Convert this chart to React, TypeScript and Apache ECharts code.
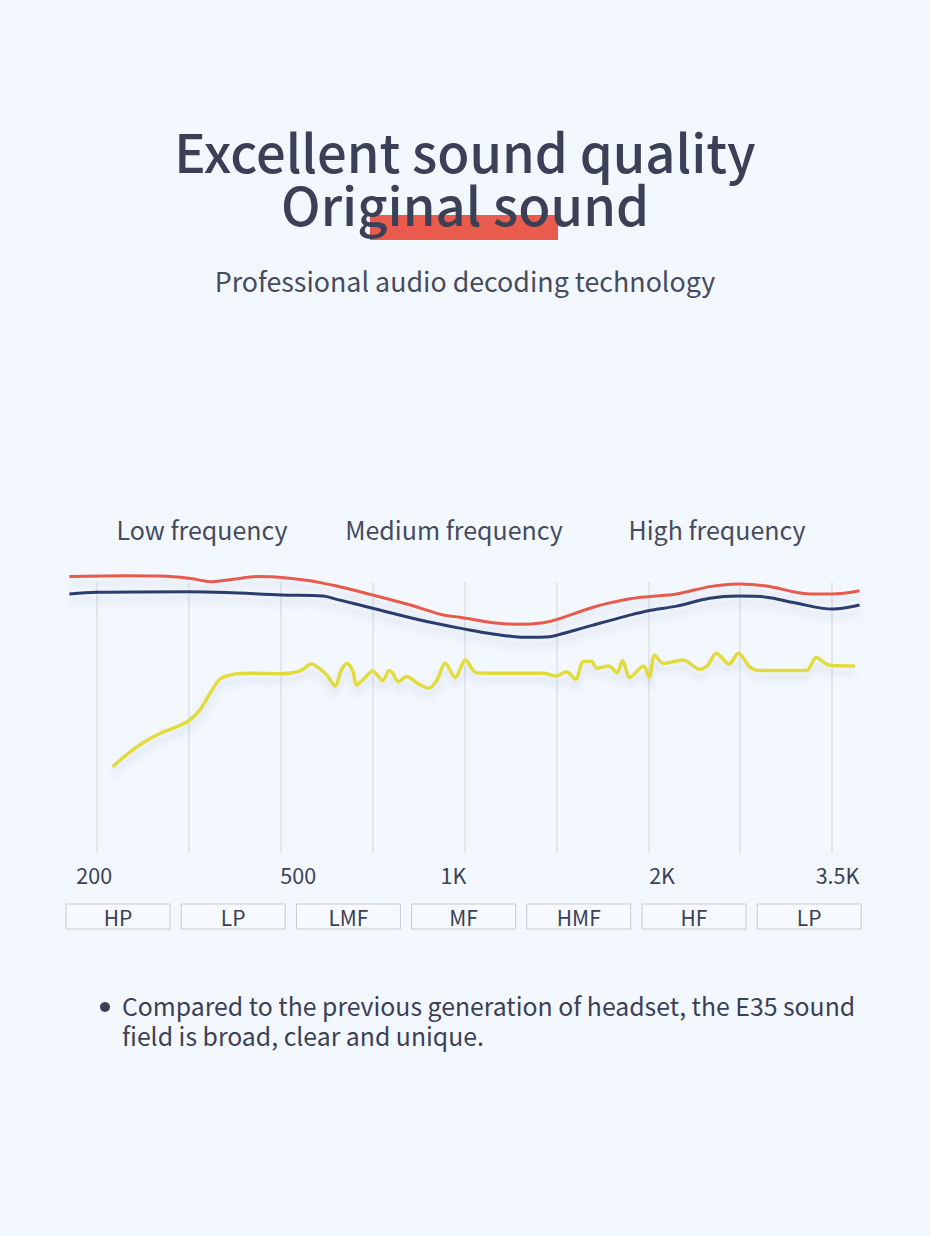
import React, { useEffect, useRef } from "react";
import * as echarts from "echarts";

// ---- data (x: position along the frequency strip, grid lines at 1..9; y: relative level 0..100) ----
const redX = [0.7, 1.32, 1.69, 2.0, 2.25, 2.48, 2.74, 3.01, 3.32, 3.61, 4.0, 4.41, 4.77, 4.95, 5.31, 5.6, 5.86, 6.01, 6.4, 6.77, 7.0, 7.31, 7.67, 7.98, 8.29, 8.58, 8.76, 9.0, 9.3];
const redY = [102.0, 102.3, 102.2, 101.4, 100.1, 101.0, 102.0, 101.7, 100.5, 98.5, 95.2, 91.5, 87.8, 87.0, 85.0, 84.4, 85.0, 86.2, 90.7, 93.6, 94.6, 95.6, 98.3, 99.3, 98.5, 96.4, 95.6, 95.6, 96.8];

const navyX = [0.7, 1.0, 2.0, 2.41, 3.01, 3.46, 3.61, 4.0, 4.59, 4.99, 5.31, 5.68, 5.93, 6.01, 6.4, 6.77, 7.0, 7.31, 7.67, 7.98, 8.29, 8.58, 9.01, 9.3];
const navyY = [95.6, 96.2, 96.4, 96.1, 95.2, 94.8, 93.6, 90.3, 85.4, 82.7, 80.8, 79.6, 79.8, 80.4, 84.1, 87.5, 89.4, 91.1, 94.0, 94.8, 94.4, 92.4, 90.0, 91.5];

const yellowX = [1.17, 1.32, 1.5, 1.69, 1.87, 2.0, 2.12, 2.23, 2.34, 2.48, 2.7, 3.01, 3.21, 3.33, 3.5, 3.59, 3.66, 3.72, 3.78, 3.83, 3.9, 4.0, 4.11, 4.18, 4.22, 4.28, 4.37, 4.5, 4.61, 4.7, 4.79, 4.9, 5.01, 5.13, 5.5, 5.86, 6.0, 6.11, 6.21, 6.29, 6.38, 6.44, 6.57, 6.66, 6.72, 6.8, 6.95, 7.01, 7.07, 7.16, 7.38, 7.56, 7.65, 7.74, 7.88, 7.98, 8.11, 8.23, 8.72, 8.83, 8.96, 9.25];
const yellowY = [31.8, 36.2, 40.7, 44.2, 46.6, 48.8, 52.8, 58.9, 64.2, 65.9, 66.3, 66.1, 67.2, 69.7, 65.7, 61.6, 67.5, 70.0, 67.5, 62.0, 64.1, 67.2, 63.6, 67.3, 66.3, 63.2, 65.1, 62.4, 60.8, 63.8, 70.0, 64.8, 71.2, 66.5, 66.3, 66.3, 65.3, 66.9, 64.1, 70.6, 70.8, 68.2, 69.0, 66.5, 71.0, 64.8, 69.0, 64.8, 73.1, 70.0, 71.2, 67.8, 69.4, 73.7, 69.7, 73.7, 68.5, 67.3, 67.3, 72.1, 69.4, 69.0];

const tickPositions = [0.97, 3.19, 4.88, 7.15, 9.06];
const tickLabels = ["200", "500", "1K", "2K", "3.5K"];

const bandLabels = ["HP", "LP", "LMF", "MF", "HMF", "HF", "LP"];
const rangeLabels = ["Low frequency", "Medium frequency", "High frequency"];

const titleLine1 = "Excellent sound quality";
const titleLine2 = "Original sound";
const subtitle = "Professional audio decoding technology";
const noteLines = [
  "Compared to the previous generation of headset, the E35 sound",
  "field is broad, clear and unique.",
];

const FONT = '"Noto Sans CJK SC", "Source Sans Pro", "Noto Sans", sans-serif';
const TEXT = "#3b4057";
const BG = "#f3f8fe";

function zip(xs: number[], ys: number[]) {
  return xs.map((x, i) => [x, ys[i]]);
}

function txt(text: string, x: number, y: number, size: number, align: string, weight: any = 400, fill = TEXT, lineHeight?: number) {
  return {
    type: "text",
    x,
    y,
    z: 10,
    style: {
      text,
      fill,
      fontSize: size,
      fontFamily: FONT,
      fontWeight: weight,
      lineHeight: lineHeight ?? Math.round(size * 1.2),
      align,
      verticalAlign: "middle",
      textAlign: align,
      textVerticalAlign: "middle",
    },
  };
}

export default function App() {
  const ref = useRef<HTMLDivElement>(null);
  useEffect(() => {
    if (!ref.current) return;
    const chart = echarts.init(ref.current, undefined, { renderer: "svg" });

    const graphics: any[] = [];
    graphics.push({ type: "rect", z: 5, shape: { x: 370, y: 215, width: 188, height: 25 }, style: { fill: "#e95b4c" } });
    graphics.push(txt(titleLine1, 465, 150, 52.5, "center", 500, TEXT, 48));
    graphics.push(txt(titleLine2, 465, 202.5, 52.5, "center", 500, TEXT, 48));
    graphics.push(txt(subtitle, 465, 280, 26.8, "center", 400, "#464b60"));

    const rangeCenters = [202, 454, 717];
    rangeLabels.forEach((l, i) => graphics.push(txt(l, rangeCenters[i], 529, 25, "center", 400, "#454a5f")));

    bandLabels.forEach((l, i) => {
      const left = 66 + i * 115.2;
      graphics.push({
        type: "rect",
        z: 5,
        shape: { x: left, y: 904, width: 104, height: 25 },
        style: { fill: "#f6f9fe", stroke: "#c6cbd4", lineWidth: 1 },
      });
      graphics.push(txt(l, left + 52, 916.5, 21, "center", 400, TEXT, 22));
    });

    graphics.push({ type: "circle", z: 10, shape: { cx: 105, cy: 1007, r: 5 }, style: { fill: TEXT } });
    noteLines.forEach((l, i) => graphics.push(txt(l, 122, 1005 + i * 30, 24.8, "left", 400, TEXT, 27)));

    const lineCommon = {
      type: "line",
      smooth: 0.35,
      symbol: "none",
      clip: false,
      silent: true,
    };

    chart.setOption({
      animation: false,
      backgroundColor: BG,
      grid: { left: 5.125, right: 6.125, top: 582, bottom: 383, containLabel: false },
      xAxis: {
        type: "value",
        min: 0,
        max: 10,
        interval: 1,
        axisLine: { show: false },
        axisTick: { show: false },
        splitLine: { show: true, showMinLine: false, showMaxLine: false, lineStyle: { color: "#dde1e9", width: 1.5 } },
        axisLabel: {
          show: true,
          customValues: tickPositions,
          margin: 11,
          fontSize: 21.5,
          fontFamily: FONT,
          color: TEXT,
          formatter: (v: number) => {
            let best = 0;
            tickPositions.forEach((p, i) => {
              if (Math.abs(p - v) < Math.abs(tickPositions[best] - v)) best = i;
            });
            return tickLabels[best];
          },
        },
      },
      yAxis: { type: "value", min: 0, max: 100, show: false, splitLine: { show: false } },
      series: [
        {
          ...lineCommon,
          name: "red",
          data: zip(redX, redY),
          lineStyle: { color: "#e85a4b", width: 3, shadowColor: "rgba(70,90,130,0.17)", shadowBlur: 7, shadowOffsetY: 7 },
        },
        {
          ...lineCommon,
          name: "navy",
          data: zip(navyX, navyY),
          lineStyle: { color: "#2b3d6e", width: 3, shadowColor: "rgba(70,90,130,0.17)", shadowBlur: 7, shadowOffsetY: 7 },
        },
        {
          ...lineCommon,
          name: "yellow",
          data: zip(yellowX, yellowY),
          smooth: 0.3,
          lineStyle: { color: "#e2db3c", width: 3.5, shadowColor: "rgba(70,90,130,0.16)", shadowBlur: 7, shadowOffsetY: 7 },
        },
      ],
      graphic: graphics,
    });
    return () => chart.dispose();
  }, []);

  return (
    <div
      ref={ref}
      style={{ position: "absolute", left: 0, top: 0, width: 930, height: 1236, background: BG }}
    />
  );
}
